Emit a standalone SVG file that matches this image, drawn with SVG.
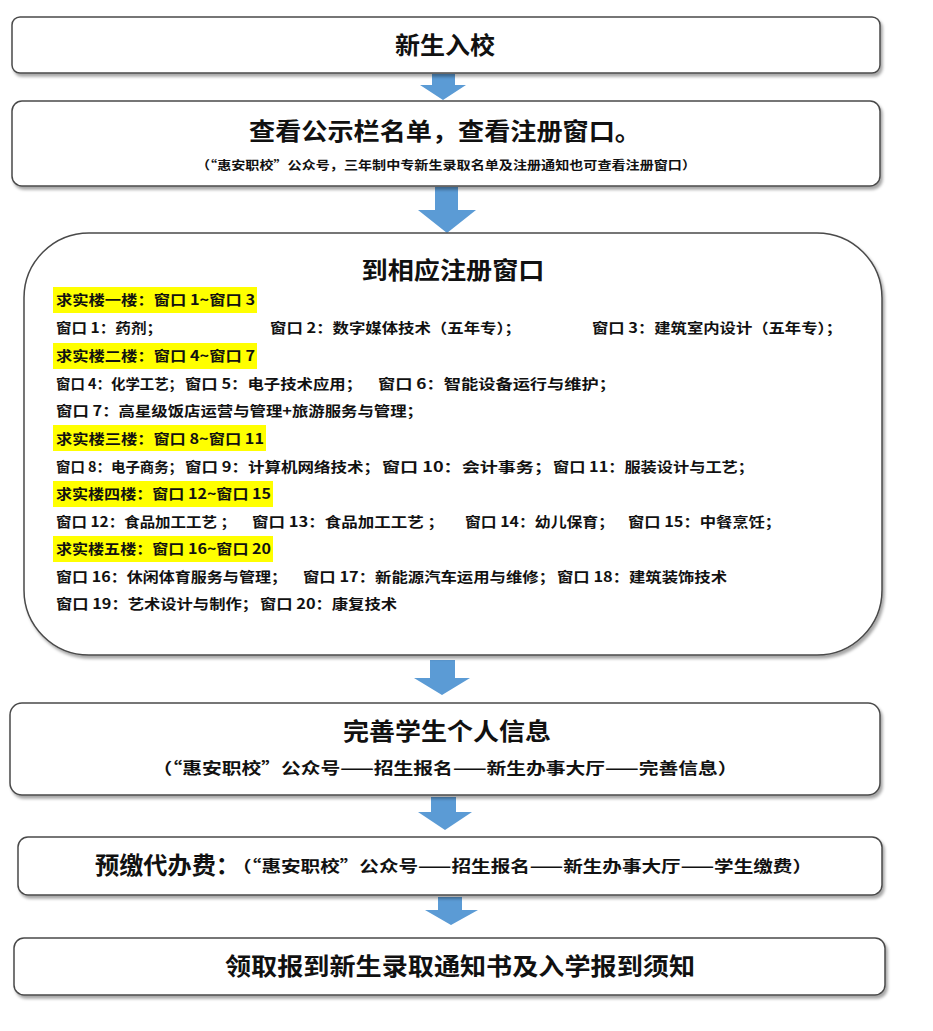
<svg xmlns="http://www.w3.org/2000/svg" width="933" height="1031" viewBox="0 0 933 1031">
<defs>
<filter id="sh" x="-5%" y="-10%" width="110%" height="130%">
<feDropShadow dx="2" dy="3" stdDeviation="1.5" flood-color="#000" flood-opacity="0.35"/>
</filter>
<style>
.box{fill:#fff;stroke:#4a4a4a;stroke-width:1.5;filter:url(#sh)}
.arr{fill:#5b9bd5}
.t{font-family:"Noto Sans CJK SC","Liberation Sans",sans-serif;font-weight:bold;fill:#111}
.h{font-size:24px;text-anchor:middle}
.s{font-size:16px;text-anchor:middle}
.b{font-size:14px}
.hl{fill:#ffff00}
</style>
</defs>
<rect width="933" height="1031" fill="#fff"/>
<g id="connectors">
<polygon class="arr" points="432,74 455,74 455,85 466,85 443,100 420,85 432,85"/>
<polygon class="arr" points="435,187 458,187 458,210 476,210 447,233 418,210 435,210"/>
<polygon class="arr" points="430,660 455,660 455,678 470,678 442,695 414,678 430,678"/>
<polygon class="arr" points="431,797 456,797 456,812 472,812 445,830 418,812 431,812"/>
<polygon class="arr" points="438,897 462,897 462,910 478,910 451,925 425,910 438,910"/>
</g>
<g id="n1">
<rect class="box" x="12" y="17" width="868" height="56" rx="8"/>
<text class="t h" x="445" y="54" textLength="100" lengthAdjust="spacingAndGlyphs">新生入校</text>
</g>
<g id="n2">
<rect class="box" x="12" y="101" width="868" height="85" rx="10"/>
<text class="t h" x="445" y="140" textLength="392" lengthAdjust="spacingAndGlyphs">查看公示栏名单，查看注册窗口。</text>
<text class="t" x="446" y="170" font-size="12" text-anchor="middle" textLength="500" lengthAdjust="spacingAndGlyphs">（“惠安职校”公众号，三年制中专新生录取名单及注册通知也可查看注册窗口）</text>
</g>
<g id="n3">
<rect class="box" x="24" y="233" width="858" height="422" rx="65"/>
<text class="t h" x="453" y="279" textLength="183" lengthAdjust="spacingAndGlyphs">到相应注册窗口</text>
<rect class="hl" x="53" y="287" width="204" height="26"/>
<rect class="hl" x="53" y="343" width="204" height="26"/>
<rect class="hl" x="53" y="425" width="213" height="26"/>
<rect class="hl" x="53" y="481" width="220" height="26"/>
<rect class="hl" x="53" y="536" width="220" height="26"/>
<g class="t b">
<text x="56" y="305" textLength="199" lengthAdjust="spacingAndGlyphs">求实楼一楼：窗口 1~窗口 3</text>
<text x="56" y="333" textLength="106" lengthAdjust="spacingAndGlyphs">窗口 1：药剂；</text>
<text x="270" y="333" textLength="251" lengthAdjust="spacingAndGlyphs">窗口 2：数字媒体技术（五年专）；</text>
<text x="592" y="333" textLength="250" lengthAdjust="spacingAndGlyphs">窗口 3：建筑室内设计（五年专）；</text>
<text x="56" y="361" textLength="199" lengthAdjust="spacingAndGlyphs">求实楼二楼：窗口 4~窗口 7</text>
<text x="56" y="389" textLength="127" lengthAdjust="spacingAndGlyphs">窗口 4：化学工艺；</text>
<text x="185" y="389" textLength="177" lengthAdjust="spacingAndGlyphs">窗口 5：电子技术应用；</text>
<text x="378" y="389" textLength="238" lengthAdjust="spacingAndGlyphs">窗口 6：智能设备运行与维护；</text>
<text x="56" y="416" textLength="367" lengthAdjust="spacingAndGlyphs">窗口 7：高星级饭店运营与管理+旅游服务与管理；</text>
<text x="56" y="444" textLength="208" lengthAdjust="spacingAndGlyphs">求实楼三楼：窗口 8~窗口 11</text>
<text x="56" y="472" textLength="127" lengthAdjust="spacingAndGlyphs">窗口 8：电子商务；</text>
<text x="185" y="472" textLength="195" lengthAdjust="spacingAndGlyphs">窗口 9：计算机网络技术；</text>
<text x="382" y="472" textLength="170" lengthAdjust="spacingAndGlyphs">窗口 10：会计事务；</text>
<text x="553" y="472" textLength="201" lengthAdjust="spacingAndGlyphs">窗口 11：服装设计与工艺；</text>
<text x="56" y="499" textLength="215" lengthAdjust="spacingAndGlyphs">求实楼四楼：窗口 12~窗口 15</text>
<text x="56" y="527" textLength="180" lengthAdjust="spacingAndGlyphs">窗口 12：食品加工工艺 ；</text>
<text x="252" y="527" textLength="192" lengthAdjust="spacingAndGlyphs">窗口 13：食品加工工艺 ；</text>
<text x="465" y="527" textLength="149" lengthAdjust="spacingAndGlyphs">窗口 14：幼儿保育；</text>
<text x="628" y="527" textLength="153" lengthAdjust="spacingAndGlyphs">窗口 15：中餐烹饪；</text>
<text x="56" y="554" textLength="215" lengthAdjust="spacingAndGlyphs">求实楼五楼：窗口 16~窗口 20</text>
<text x="56" y="582" textLength="231" lengthAdjust="spacingAndGlyphs">窗口 16：休闲体育服务与管理；</text>
<text x="303" y="582" textLength="252" lengthAdjust="spacingAndGlyphs">窗口 17：新能源汽车运用与维修；</text>
<text x="557" y="582" textLength="170" lengthAdjust="spacingAndGlyphs">窗口 18：建筑装饰技术</text>
<text x="56" y="609" textLength="202" lengthAdjust="spacingAndGlyphs">窗口 19：艺术设计与制作；</text>
<text x="260" y="609" textLength="137" lengthAdjust="spacingAndGlyphs">窗口 20：康复技术</text>
</g>
</g>
<g id="n4">
<rect class="box" x="10" y="703" width="870" height="92" rx="12"/>
<text class="t h" x="447" y="740" textLength="208" lengthAdjust="spacingAndGlyphs">完善学生个人信息</text>
<text class="t s" x="445" y="774" textLength="585" lengthAdjust="spacingAndGlyphs">（“惠安职校”公众号——招生报名——新生办事大厅——完善信息）</text>
</g>
<g id="n5">
<rect class="box" x="18" y="837" width="864" height="58" rx="10"/>
<text class="t" x="95" y="874" font-size="24" textLength="145" lengthAdjust="spacingAndGlyphs">预缴代办费：</text>
<text class="t" x="232" y="872" font-size="16" textLength="580" lengthAdjust="spacingAndGlyphs">（“惠安职校”公众号——招生报名——新生办事大厅——学生缴费）</text>
</g>
<g id="n6">
<rect class="box" x="14" y="938" width="871" height="57" rx="10"/>
<text class="t h" x="460" y="975" textLength="470" lengthAdjust="spacingAndGlyphs">领取报到新生录取通知书及入学报到须知</text>
</g>
</svg>
